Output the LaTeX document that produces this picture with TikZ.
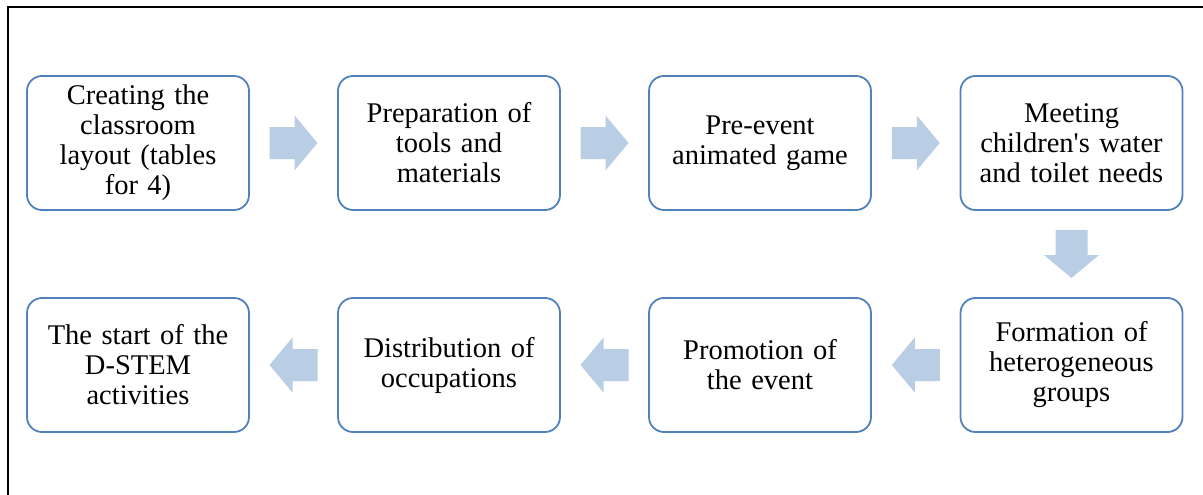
\documentclass[tikz,border=0pt]{standalone}
\usepackage{fontspec}
\setmainfont{Liberation Serif}
\usetikzlibrary{calc}
\definecolor{boxblue}{HTML}{4F81BD}
\definecolor{arrowblue}{HTML}{B9CDE5}
\tikzset{
  stepbox/.style={draw=boxblue, line width=1.8pt, rounded corners=15pt, fill=white,
    minimum width=222pt, minimum height=134pt, align=center, text width=210pt,
    font=\fontsize{28.5pt}{30pt}\selectfont, inner sep=0pt},
  blockarrow/.pic={\fill[arrowblue] (-24,-16) -- (1,-16) -- (1,-27.5) -- (24,0) -- (1,27.5) -- (1,16) -- (-24,16) -- cycle;}
}
\begin{document}
\begin{tikzpicture}[x=1pt,y=-1pt]
\useasboundingbox (0,0) rectangle (1203,495);
\begin{scope}
\clip (0,0) rectangle (1203,495);
\draw[line width=2pt] (7.5,7.5) rectangle (1220,520);
\end{scope}
\node[stepbox] (a) at (138,143) {Creating the\\classroom\\layout (tables\\for 4)};
\node[stepbox] (b) at (449,143) {Preparation of\\tools and\\materials};
\node[stepbox] (c) at (760,143) {Pre-event\\animated game};
\node[stepbox] (d) at (1071.5,143) {Meeting\\children\textquotesingle s water\\and toilet needs};
\node[stepbox] (e) at (1071.5,365) {Formation of\\heterogeneous\\groups};
\node[stepbox] (f) at (760,365) {Promotion of\\the event};
\node[stepbox] (g) at (449,365) {Distribution of\\occupations};
\node[stepbox] (h) at (138,365) {The start of the\\D-STEM\\activities};
\pic at ($(a.east)!0.5!(b.west)$) {blockarrow};
\pic at ($(b.east)!0.5!(c.west)$) {blockarrow};
\pic at ($(c.east)!0.5!(d.west)$) {blockarrow};
\pic[rotate=-90] at ($(d.south)!0.5!(e.north)$) {blockarrow};
\pic[rotate=180] at ($(e.west)!0.5!(f.east)$) {blockarrow};
\pic[rotate=180] at ($(f.west)!0.5!(g.east)$) {blockarrow};
\pic[rotate=180] at ($(g.west)!0.5!(h.east)$) {blockarrow};
\end{tikzpicture}
\end{document}
